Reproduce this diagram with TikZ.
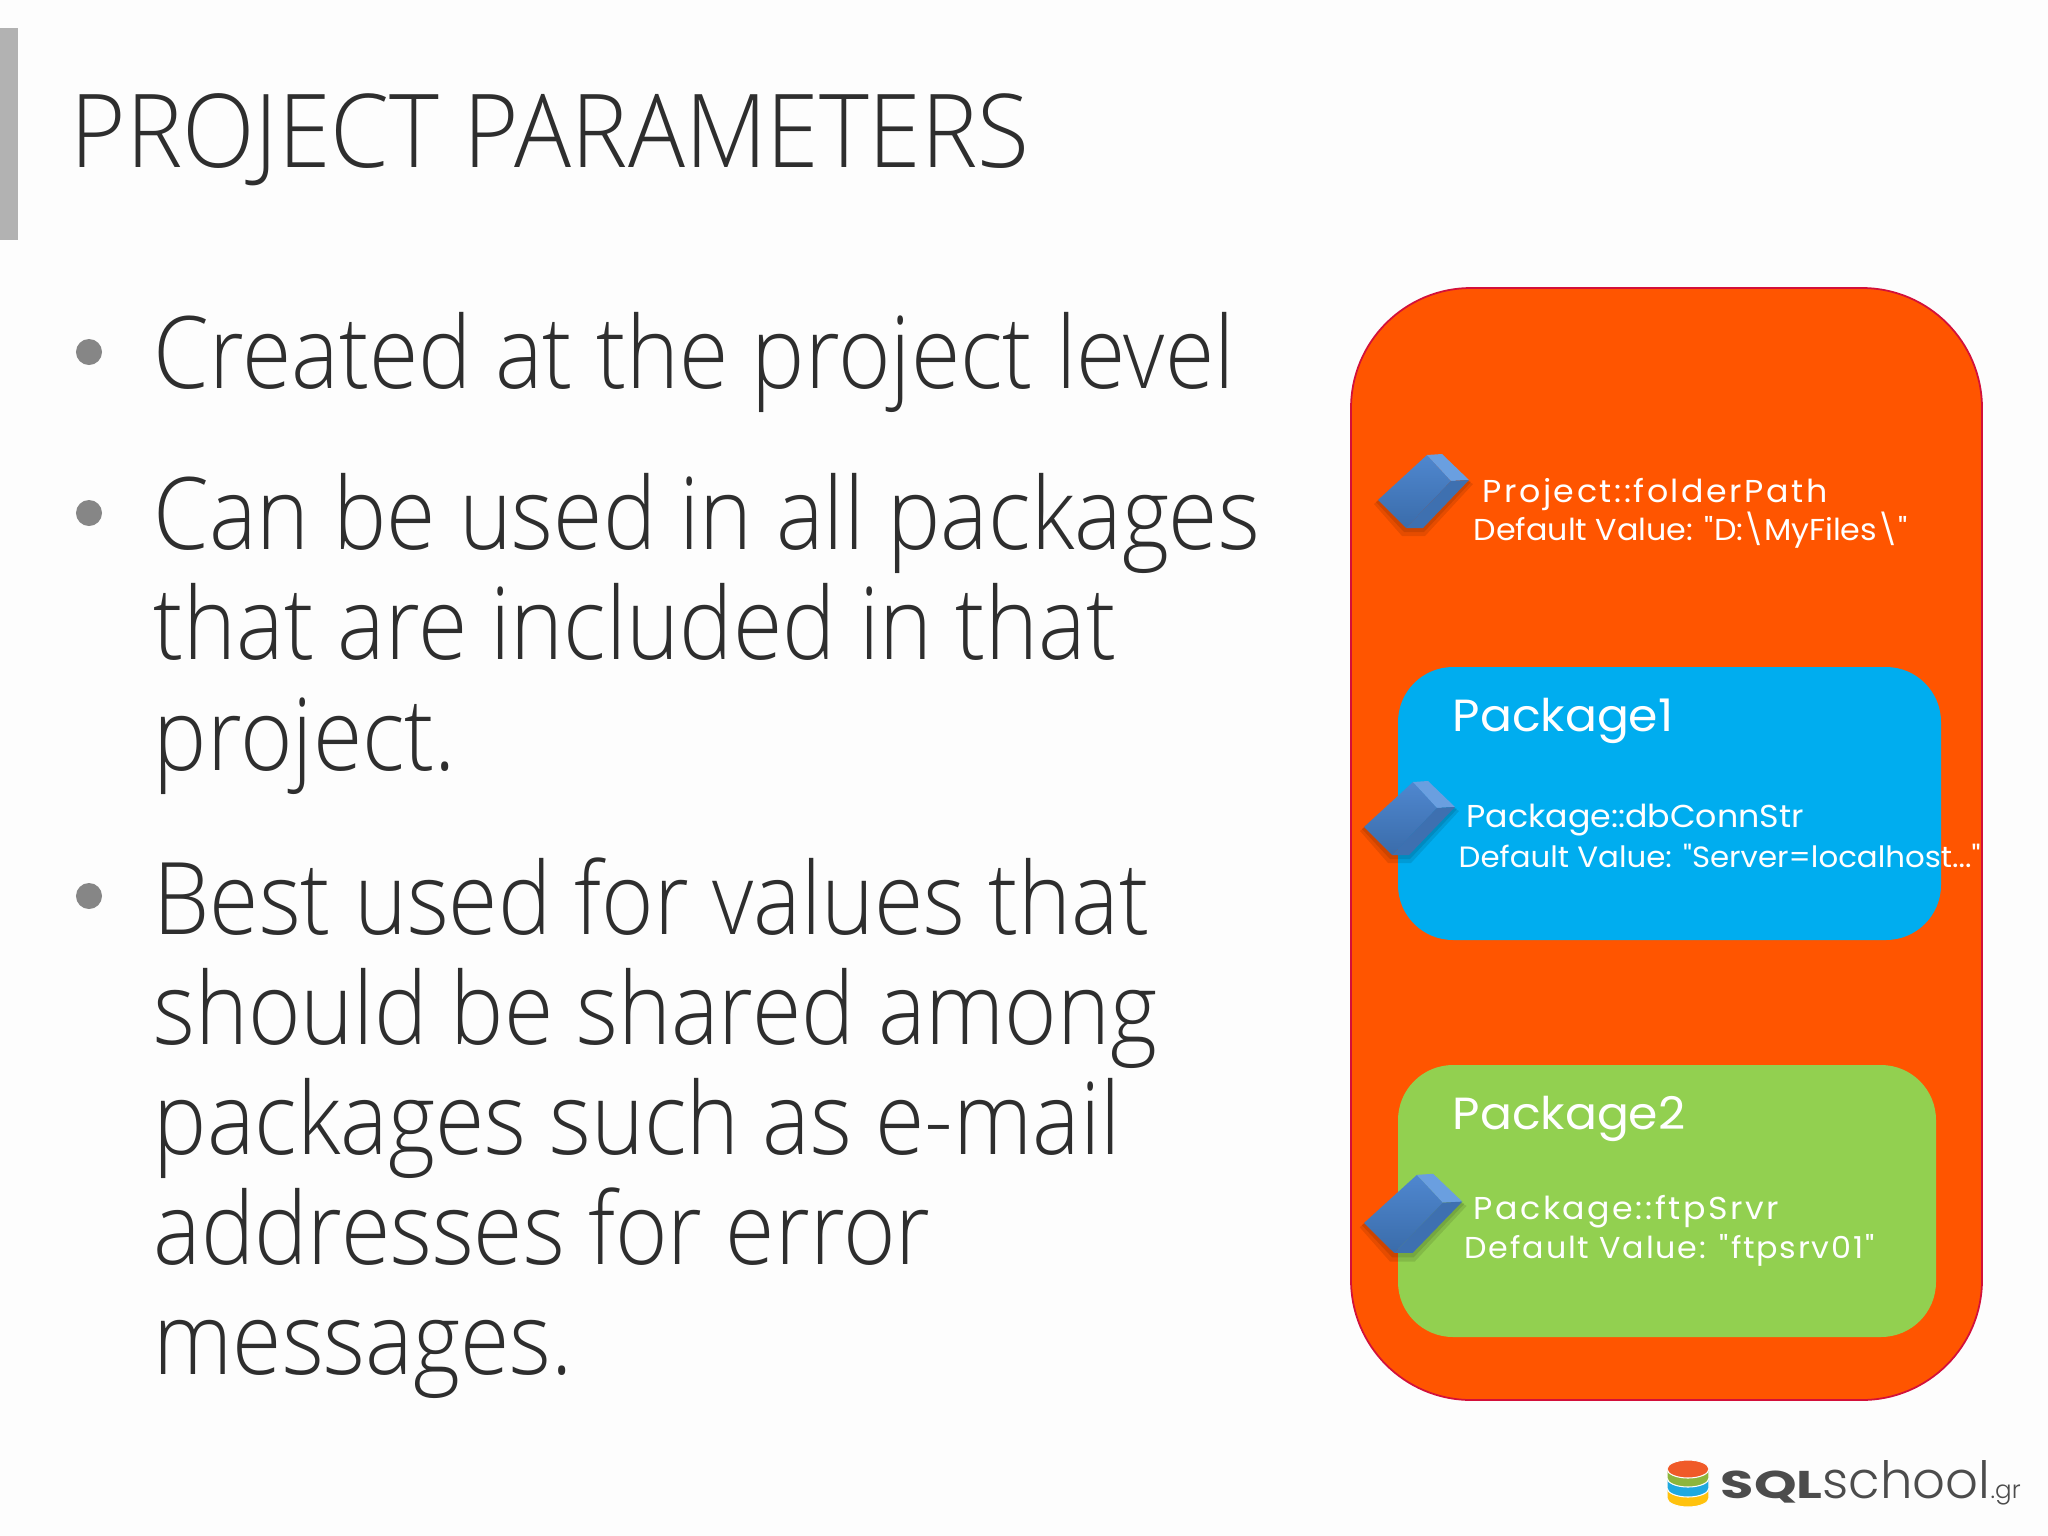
\documentclass[tikz,border=0pt]{standalone}
\usepackage{fontspec}
\setmainfont{Open Sans Light}
\newfontfamily\titlefont[FakeStretch=0.93]{Open Sans Light}
\newfontfamily\bodyfont[FakeStretch=0.895]{Open Sans Light}
\newfontfamily\labelfont[FakeStretch=1.05]{Poppins}
\newfontfamily\logofont[FakeStretch=1.4]{Poppins}
\newfontfamily\logolight{Poppins Light}
\definecolor{slidebg}{HTML}{FDFDFD}
\definecolor{inktext}{HTML}{2E2E2E}
\definecolor{projorange}{HTML}{FF5500}
\definecolor{projedge}{HTML}{D3103A}
\definecolor{pkgblue}{HTML}{00ADEF}
\definecolor{pkggreen}{HTML}{92D050}
\definecolor{cubetop}{HTML}{6A9FE0}
\definecolor{cubelight}{HTML}{4F87CF}
\definecolor{cubedark}{HTML}{3A6CAA}
\definecolor{cubeside}{HTML}{3E70B0}
\definecolor{logored}{HTML}{F05A28}
\definecolor{logogreen}{HTML}{8DB53C}
\definecolor{logoblue}{HTML}{1FA9E0}
\definecolor{logoyellow}{HTML}{FFC20E}
\tikzstyle{titletext} = [anchor=base west, inner sep=0pt, text=inktext, font=\titlefont\fontsize{29pt}{32pt}\selectfont]
\tikzstyle{bodytext} = [anchor=north west, inner sep=0pt, align=left, text=inktext, font=\bodyfont\fontsize{28.5pt}{31.3pt}\selectfont]
\tikzstyle{bulletdot} = [circle, minimum size=0.26cm, inner sep=0pt, fill=gray!95]
\tikzstyle{pkgname} = [anchor=base west, inner sep=0pt, text=white, font=\labelfont\fontsize{12.8pt}{14pt}\selectfont]
\tikzstyle{paramname} = [anchor=base west, inner sep=0pt, text=white, font=\labelfont\fontsize{9pt}{10pt}\selectfont]
\tikzstyle{paramvalue} = [anchor=base west, inner sep=0pt, text=white, font=\labelfont\fontsize{8.6pt}{10pt}\selectfont]
\tikzstyle{logoband} = [draw=slidebg, line width=0.3pt]
\tikzstyle{logotext} = [anchor=base west, inner sep=0pt, text=black!70]
\tikzset{
  paramcube/.pic={
    \fill [black, opacity=0.10] (-4,4) -- (49,-41) -- (95,-16) -- (47,36) -- (24,36) -- cycle;
    \fill [black, opacity=0.10] (-2,2) -- (49,-43) -- (93,-18) -- (46,32) -- (26,32) -- cycle;
    \shade [top color=cubelight, bottom color=cubedark] (0,0) -- (49,-45) -- (73,-19) -- (28,28) -- cycle;
    \fill [cubetop] (49,-45) -- (64,-46) -- (91,-20) -- (73,-19) -- cycle;
    \fill [cubeside] (73,-19) -- (91,-20) -- (45,28) -- (28,28) -- cycle;
  }
}
\begin{document}
\begin{tikzpicture}[x=0.01cm, y=-0.01cm]
    \useasboundingbox [fill=slidebg] (0,0) rectangle (2048,1536);
    % Title and bar
    \fill [black!30] (0,28) rectangle (18,240);
    \node (title) [titletext] at (70,167) {PROJECT PARAMETERS};
    % Bullets
    \node (dot1) [bulletdot] at (89,352) {};
    \node (dot2) [bulletdot] at (89,513) {};
    \node (dot3) [bulletdot] at (89,896) {};
    \node (point1) [bodytext] at (153,312) {Created at the project level};
    \node (point2) [bodytext] at (153,473) {Can be used in all packages\\that are included in that\\project.};
    \node (point3) [bodytext] at (153,857) {Best used for values that\\should be shared among\\packages such as e-mail\\addresses for error\\messages.};
    % Project box
    \draw [fill=projorange, draw=projedge, line width=0.5pt, rounded corners=1.2cm] (1351,288) rectangle (1982,1400);
    \pic at (1378,500) {paramcube};
    \node (projname) [paramname] at (1482,502) {\addfontfeature{LetterSpace=8}Project::folderPath};
    \node (projvalue) [paramvalue] at (1473,540) {Default Value: "D:\textbackslash MyFiles\textbackslash "};
    % Package 1
    \fill [pkgblue, rounded corners=0.55cm] (1398,667) rectangle (1941,940);
    \node (pkgone) [pkgname] at (1452,731) {Package1};
    \pic at (1364,827) {paramcube};
    \node (dbname) [paramname] at (1466,827) {Package::dbConnStr};
    \node (dbvalue) [paramvalue, font=\labelfont\fontsize{8.35pt}{10pt}\selectfont] at (1458,867) {Default Value: "Server=localhost..."};
    % Package 2
    \fill [pkggreen, rounded corners=0.55cm] (1398,1065) rectangle (1936,1337);
    \node (pkgtwo) [pkgname] at (1452,1129) {Package2};
    \pic [xscale=1.08, yscale=1.07] at (1364,1223) {paramcube};
    \node (ftpname) [paramname] at (1473,1219) {\addfontfeature{LetterSpace=8}Package::ftpSrvr};
    \node (ftpvalue) [paramvalue] at (1464,1258) {\addfontfeature{LetterSpace=6}Default Value: "ftpsrv01"};
    % Logo
    \fill [logoyellow, logoband] (1667,1489) -- (1709,1489) -- (1709,1498) arc [start angle=0, end angle=180, x radius=21, y radius=9] -- cycle;
    \fill [logoblue, logoband] (1667,1479) -- (1709,1479) -- (1709,1488) arc [start angle=0, end angle=180, x radius=21, y radius=9] -- cycle;
    \fill [logogreen, logoband] (1667,1469) -- (1709,1469) -- (1709,1478) arc [start angle=0, end angle=180, x radius=21, y radius=9] -- cycle;
    \fill [logored, logoband] (1688,1469) ellipse [x radius=21, y radius=9];
    \node (logosql) [logotext, font=\logofont\bfseries\fontsize{11pt}{12pt}\selectfont] at (1720,1498) {SQL};
    \node (logoschool) [logotext, font=\logolight\fontsize{14.6pt}{16pt}\selectfont] at (1822,1498) {school};
    \node (logogr) [logotext, font=\logolight\fontsize{7pt}{8pt}\selectfont] at (1990,1498) {.gr};
\end{tikzpicture}
\end{document}
